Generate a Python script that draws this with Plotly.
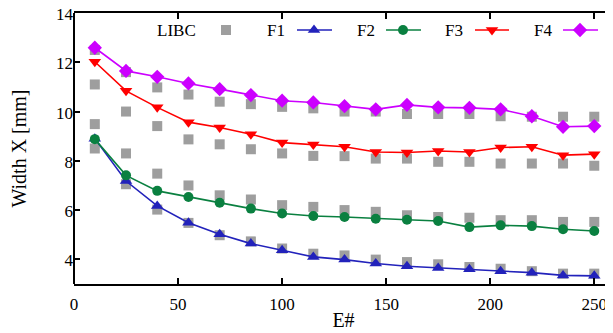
import plotly.graph_objects as go

x_vals = [10, 25, 40, 55, 70, 85, 100, 115, 130, 145, 160, 175, 190, 205, 220, 235, 250]

libc_a = [12.50, 11.60, 10.98, 10.69, 10.40, 10.30, 10.19, 10.13, 10.00, 10.00, 9.90, 9.90, 9.90, 9.81, 9.79, 9.79, 9.79]
libc_b = [11.10, 10.00, 9.41, 8.87, 8.67, 8.47, 8.30, 8.20, 8.19, 8.09, 8.09, 7.96, 7.96, 7.89, 7.89, 7.89, 7.80]
libc_c = [9.49, 8.30, 7.48, 7.00, 6.60, 6.43, 6.20, 6.13, 6.00, 5.93, 5.79, 5.72, 5.69, 5.59, 5.59, 5.52, 5.52]
libc_d = [8.50, 7.05, 6.02, 5.48, 4.98, 4.73, 4.44, 4.23, 4.16, 3.99, 3.89, 3.80, 3.69, 3.62, 3.52, 3.42, 3.42]

f1 = [8.90, 7.18, 6.17, 5.49, 5.02, 4.64, 4.37, 4.10, 3.99, 3.83, 3.72, 3.65, 3.60, 3.52, 3.46, 3.35, 3.33]
f2 = [8.88, 7.41, 6.78, 6.53, 6.30, 6.06, 5.86, 5.76, 5.72, 5.65, 5.61, 5.56, 5.31, 5.38, 5.35, 5.22, 5.15]
f3 = [12.02, 10.84, 10.17, 9.57, 9.35, 9.08, 8.74, 8.66, 8.57, 8.36, 8.34, 8.40, 8.36, 8.54, 8.57, 8.23, 8.27]
f4 = [12.59, 11.65, 11.41, 11.14, 10.91, 10.67, 10.44, 10.37, 10.22, 10.09, 10.27, 10.17, 10.15, 10.09, 9.81, 9.38, 9.41]

x_ticks = [0, 50, 100, 150, 200, 250]
y_ticks = [4, 6, 8, 10, 12, 14]

series = [
    ("F1", f1, "#2222bb", "triangle-up", 11),
    ("F2", f2, "#0a8040", "circle", 10),
    ("F3", f3, "#ff0000", "triangle-down", 11),
    ("F4", f4, "#cc00ff", "diamond", 11),
]
GRAY = "#9e9e9e"
FONT = "Liberation Serif"

fig = go.Figure()

for ys in (libc_a, libc_b, libc_c, libc_d):
    fig.add_trace(go.Scatter(x=x_vals, y=ys, mode="markers", name="LIBC",
                             marker=dict(symbol="square", size=10, color=GRAY),
                             showlegend=False, cliponaxis=False))

for name, ys, col, sym, sz in series:
    fig.add_trace(go.Scatter(x=x_vals, y=ys, mode="lines+markers", name=name,
                             line=dict(color=col, width=1.6),
                             marker=dict(symbol=sym, size=sz, color=col),
                             showlegend=False, cliponaxis=False))

# manual gnuplot-style legend (text left, sample right), in pixel-like aux axes
leg_y = 30
leg_entries = [
    # text right edge, sample start, sample end, marker x
    ("LIBC", 198, None, None, 226, GRAY, "square", 10),
    ("F1", 287, 297, 332, 314, "#2222bb", "triangle-up", 11),
    ("F2", 377, 386, 421, 403, "#0a8040", "circle", 10),
    ("F3", 465, 475, 509, 492, "#ff0000", "triangle-down", 11),
    ("F4", 554, 563, 598, 580, "#cc00ff", "diamond", 11),
]
for txt, tx, s0, s1, mx, col, sym, sz in leg_entries:
    fig.add_annotation(x=tx, y=leg_y, xref="x2", yref="y2", text=txt, showarrow=False,
                       xanchor="right", yanchor="middle",
                       font=dict(family=FONT, size=17, color="black"))
    if s0 is not None:
        fig.add_trace(go.Scatter(x=[s0, s1], y=[leg_y, leg_y], xaxis="x2", yaxis="y2",
                                 mode="lines", line=dict(color=col, width=1.6),
                                 showlegend=False, hoverinfo="skip"))
    fig.add_trace(go.Scatter(x=[mx], y=[leg_y], xaxis="x2", yaxis="y2", mode="markers",
                             marker=dict(symbol=sym, size=sz, color=col),
                             showlegend=False, hoverinfo="skip", cliponaxis=False))

fig.add_shape(type="line", xref="paper", yref="paper", x0=0, x1=0, y0=0, y1=1,
              line=dict(color="black", width=2))

# the page body has an 8px margin, so the figure is 8px smaller than the window
fig.update_layout(
    width=605, height=325,
    margin=dict(l=66, r=0, t=5, b=49, autoexpand=False),
    paper_bgcolor="white", plot_bgcolor="white",
    font=dict(family=FONT, size=17, color="black"),
    showlegend=False,
    xaxis=dict(range=[0, 259], tickvals=x_ticks, ticktext=[str(v) for v in x_ticks],
               automargin=False, ticklabeloverflow="allow",
               showgrid=False, zeroline=False, showline=True, linecolor="black", linewidth=2,
               mirror="ticks", ticks="inside", ticklen=6, tickwidth=1.5, tickcolor="black",
               ticklabelstandoff=4,
               tickfont=dict(family=FONT, size=17),
               title=dict(text="E#", font=dict(family=FONT, size=20), standoff=0)),
    yaxis=dict(range=[3, 14], tickvals=y_ticks, ticktext=[str(v) for v in y_ticks],
               automargin=False, ticklabeloverflow="allow", ticklabelshift=1,
               showgrid=False, zeroline=False, showline=False,
               mirror="ticks", ticks="inside", ticklen=6, tickwidth=1.5, tickcolor="black",
               tickfont=dict(family=FONT, size=17),
               title=dict(text="Width X [mm]", font=dict(family=FONT, size=20), standoff=33)),
    xaxis2=dict(range=[74, 613], overlaying="x", visible=False, fixedrange=True),
    yaxis2=dict(range=[284, 13], overlaying="y", visible=False, fixedrange=True),
)

fig.write_html("out.html")
